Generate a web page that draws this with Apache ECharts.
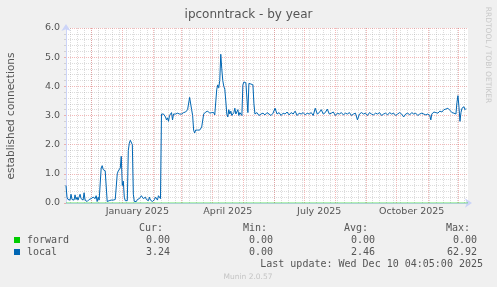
<!DOCTYPE html>
<html><head><meta charset="utf-8">
<script src="https://cdn.jsdelivr.net/npm/echarts@6/dist/echarts.min.js"></script>
<style>html,body{margin:0;padding:0;background:#f0f0f0}#c{width:497px;height:287px}</style>
</head><body><div id="c"></div>
<script>
const titleText = 'ipconntrack - by year';
const yAxisName = 'established connections';
const sideText = 'RRDTOOL / TOBI OETIKER';
const footerText = 'Munin 2.0.57';
// x axis: days since 2024-11-06
const monthStartDays = [25,56,87,115,146,176,207,237,268,299,329,360,390];
const firstSundayDay = 4;
const labelDays = [71,161,252,344];
const labelTexts = ['January 2025','April 2025','July 2025','October 2025'];

const localDays = [
0,1,2,3,4,5,6,7,8,9,10,11,12,13,14,15,16,17,18,19,20,21,22,23,24,25,26,27,28,29,30,31,32,33,34,
35,36,37,38,39,40,41,42,43,44,45,46,47,48,49,50,
51,52,53,54,55,56,57,58,59,60,61,
62,63,64,65,66,67,68,69,70,71,72,73,74,75,76,77,78,79,80,81,82,83,84,85,86,87,88,89,90,91,92,93,94,
95,96,97,98,99,100,101,102,103,104,105,106,107,108,109,110,111,112,113,114,115,116,117,118,119,120,121,122,123,124,125,126,127,128,129,130,131,132,133,134,135,136,
137,138,139,140,141,142,143,144,145,146,147,148,149,
150,151,152,153,154,155,156,157,158,159,160,161,162,163,164,165,166,167,168,169,170,171,172,173,174,175,
176,177,178,179,180,181,182,183,184,185,186,187,188,
190,192,194,196,198,200,202,204,206,208,210,212,214,216,218,220,222,224,226,228,230,232,234,236,238,240,
242,244,246,248,250,252,254,256,258,260,262,264,266,268,270,272,274,276,278,280,282,284,286,288,290,291,292,
294,296,298,300,302,304,306,308,310,312,314,316,318,320,322,324,326,328,330,332,334,336,337,338,340,342,344,
346,348,350,352,354,356,358,360,362,363,364,366,368,370,372,374,376,378,380,382,384,386,388,389,390,391,392,
393,394,395,396,397,398
];
const localValues = [
0.6,0.2,0.12,0.15,0.1,0.3,0.12,0.15,0.1,0.28,0.12,0.2,0.1,0.15,0.3,0.15,0.18,0.1,0.35,0.1,0.12,0.05,0.08,0.12,0.1,0.15,0.1,0.2,0.25,0.15,0.25,0.05,0.2,0.1,0.15,
1.2,1.28,1.15,1.18,1.1,1.12,0.05,0.02,0.08,0.05,0.1,0.08,0.1,0.08,0.12,0.1,
1.0,1.1,1.12,1.2,1.6,0.6,0.75,0.2,0.08,0.1,0.08,
1.8,2.05,2.15,2.12,2.0,0.3,0.05,0.1,0.05,0.12,0.08,0.15,0.2,0.25,0.2,0.15,0.1,0.2,0.12,0.15,0.08,0.2,0.1,0.15,0.05,0.1,0.12,0.2,0.15,0.1,0.25,0.2,0.15,
3.05,3.08,3.05,3.0,2.95,2.85,2.92,2.8,3.0,2.95,3.1,2.85,3.05,3.1,3.05,3.0,3.08,3.02,3.05,3.0,3.05,3.08,3.1,3.05,3.12,3.15,3.2,3.25,3.62,3.6,3.2,3.0,2.5,2.4,2.5,2.45,2.5,2.55,2.5,2.55,2.6,2.6,
3.05,3.1,3.12,3.1,3.15,3.1,3.08,3.05,3.1,3.05,3.1,3.02,3.05,
3.9,4.05,3.95,4.2,5.1,4.6,4.2,4.0,3.9,3.5,3.05,2.95,3.2,3.05,3.15,3.0,3.05,3.1,3.25,3.05,3.1,3.2,3.0,3.1,3.05,3.0,
4.05,4.15,4.1,4.12,3.6,3.1,4.1,4.15,4.08,4.1,4.05,3.4,3.05,
3.1,3.0,3.05,3.08,3.02,3.1,3.05,3.0,3.08,3.25,3.05,3.1,3.0,3.08,3.05,3.12,3.02,3.1,3.05,3.15,3.0,3.08,3.05,3.1,3.02,3.08,
3.05,3.1,3.0,3.25,3.05,3.1,3.2,3.05,3.1,3.22,3.05,3.08,3.12,3.0,3.08,3.05,3.1,3.02,3.08,3.05,3.1,3.0,3.05,3.08,2.85,2.8,3.05,
3.1,3.05,3.08,3.0,3.1,3.05,3.02,3.08,3.05,3.1,3.0,3.05,3.08,3.02,3.1,3.05,3.08,3.0,3.05,3.1,3.05,2.95,2.9,3.05,3.08,3.02,3.1,
3.05,3.08,3.0,3.05,3.08,3.05,3.02,3.05,3.0,2.85,3.05,3.12,3.1,3.08,3.15,3.12,3.2,3.22,3.25,3.18,3.1,3.08,3.05,3.45,3.68,3.3,2.8,
3.1,3.25,3.2,3.3,3.2,3.24
];
const forwardDays = [0,400];
const forwardValues = [0,0];

const legendNames = ['forward','local'];
const legendColors = ['#00cc00','#0066b3'];
const statsHeader = ['Cur:','Min:','Avg:','Max:'];
const forwardStats = ['0.00','0.00','0.00','0.00'];
const localStats = ['3.24','0.00','2.46','62.92'];
const lastUpdate = 'Last update: Wed Dec 10 04:05:00 2025';

const weekDays = [];
for (let d = firstSundayDay; d < 400; d += 7) weekDays.push(d);

const chart = echarts.init(document.getElementById('c'), null, {renderer:'canvas'});
const txt = '#555555';
const mono = '10px "DejaVu Sans Mono"';
const headerX = [163,267,368,470];
const valueX = [170,273,375,477];
const graphics = [
  {type:'text', x:248.5, y:15, style:{text:titleText, font:'12px "DejaVu Sans"', fill:txt, align:'center', verticalAlign:'middle'}},
  {type:'text', x:11, y:116, rotation:Math.PI/2, style:{text:yAxisName, font:'10.5px "DejaVu Sans"', fill:txt, align:'center', verticalAlign:'middle'}},
  {type:'text', x:488, y:55, rotation:-Math.PI/2, style:{text:sideText, font:'7.5px "DejaVu Sans"', fill:'#c8c8c8', align:'center', verticalAlign:'middle'}},
  {type:'text', x:248, y:277, style:{text:footerText, font:'7.5px "DejaVu Sans"', fill:'#c4c4c4', align:'center', verticalAlign:'middle'}},
  {type:'text', x:483, y:264, style:{text:lastUpdate, font:mono, fill:txt, align:'right', verticalAlign:'middle'}}
];
statsHeader.forEach((h,i)=>graphics.push({type:'text', x:headerX[i], y:228, style:{text:h, font:mono, fill:txt, align:'right', verticalAlign:'middle'}}));
[forwardStats, localStats].forEach((row,r)=>{
  const y = 240 + r*12;
  graphics.push({type:'rect', shape:{x:14, y:y-3, width:6, height:6}, style:{fill:legendColors[r]}});
  graphics.push({type:'text', x:27, y:y, style:{text:legendNames[r], font:mono, fill:txt, align:'left', verticalAlign:'middle'}});
  row.forEach((v,i)=>graphics.push({type:'text', x:valueX[i], y:y, style:{text:v, font:mono, fill:txt, align:'right', verticalAlign:'middle'}}));
});

const gray = 'rgba(140,140,140,0.3)';
const red = 'rgba(224,80,80,0.4)';
chart.setOption({
  animation:false,
  backgroundColor:'#f0f0f0',
  grid:{left:66, top:28, width:402, height:175, show:true, backgroundColor:'#ffffff', borderWidth:0},
  xAxis:{type:'value', min:0, max:400,
    axisLine:{show:true, symbol:['none','arrow'], symbolSize:[7,7], symbolOffset:[0,4], lineStyle:{color:'#ccd4f8', width:1}},
    axisTick:{show:false}, splitLine:{show:false},
    axisLabel:{customValues:labelDays, margin:4, color:txt, fontSize:9.5, fontFamily:'DejaVu Sans',
      formatter:(v)=>labelTexts[labelDays.indexOf(v)] || ''}
  },
  yAxis:{type:'value', min:0, max:6, interval:1,
    axisLine:{show:true, symbol:['none','arrow'], symbolSize:[7,7], symbolOffset:[0,4], lineStyle:{color:'#ccd4f8', width:1}},
    axisTick:{show:true, length:2, lineStyle:{color:red}},
    minorTick:{show:true, splitNumber:5, length:2, lineStyle:{color:gray}},
    axisLabel:{margin:6, color:txt, fontSize:9.5, fontFamily:'DejaVu Sans', formatter:(v)=>v.toFixed(1)},
    splitLine:{show:true, lineStyle:{color:red, type:[1,1], width:1}},
    minorSplitLine:{show:true, lineStyle:{color:gray, type:[1,1], width:1}}
  },
  graphic:graphics,
  series:[
    {type:'line', data:[], silent:true, z:1,
     markLine:{silent:true, z:1, symbol:['none','none'], label:{show:false}, animation:false,
       lineStyle:{color:gray, type:[1,1], width:1}, emphasis:{disabled:true},
       data:weekDays.map(d=>({xAxis:d}))}},
    {type:'line', data:[], silent:true, z:1,
     markLine:{silent:true, z:1, symbol:['none','none'], label:{show:false}, animation:false,
       lineStyle:{color:red, type:[1,1], width:1}, emphasis:{disabled:true},
       data:monthStartDays.map(d=>({xAxis:d}))}},
    {name:'forward', type:'line', z:3, symbol:'none', silent:true, lineStyle:{color:legendColors[0], width:1, opacity:0.6},
     data:forwardDays.map((d,i)=>[d, forwardValues[i]])},
    {name:'local', type:'line', z:4, symbol:'none', silent:true, lineStyle:{color:legendColors[1], width:1},
     data:localDays.map((d,i)=>[d, localValues[i]])}
  ]
});
</script></body></html>
